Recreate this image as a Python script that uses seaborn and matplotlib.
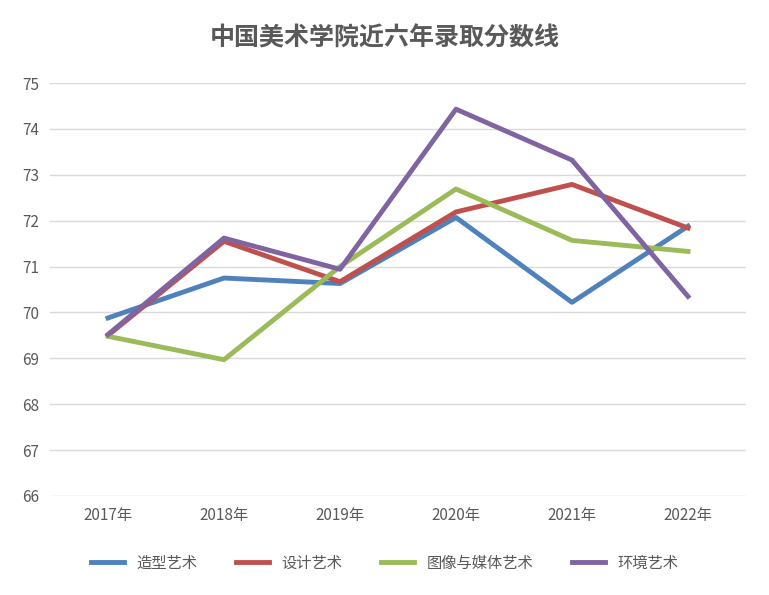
import matplotlib.pyplot as plt
from matplotlib import font_manager
import seaborn as sns
import pandas as pd

years = ['2017年', '2018年', '2019年', '2020年', '2021年', '2022年']
zaoxing = [69.88, 70.75, 70.63, 72.07, 70.22, 71.88]
sheji = [69.50, 71.55, 70.67, 72.19, 72.79, 71.84]
tuxiang = [69.48, 68.97, 71.00, 72.69, 71.57, 71.33]
huanjing = [69.52, 71.62, 70.94, 74.43, 73.32, 70.35]

series = {'造型艺术': zaoxing, '设计艺术': sheji, '图像与媒体艺术': tuxiang, '环境艺术': huanjing}
colors = ['#4f81bd', '#c0504d', '#9bbb59', '#8064a2']

rows = []
for name, vals in series.items():
    for i, (y, v) in enumerate(zip(years, vals)):
        rows.append({'x': i, 'year': y, 'score': v, 'major': name})
df = pd.DataFrame(rows)

# pick whatever CJK font is actually registered
cjk = [f.name for f in font_manager.fontManager.ttflist if 'CJK' in f.name]
cjk = sorted(set(cjk), key=lambda n: (0 if 'SC' in n else 1, n))
plt.rcParams['font.family'] = 'sans-serif'
plt.rcParams['font.sans-serif'] = cjk + ['Noto Sans CJK SC', 'DejaVu Sans']
plt.rcParams['axes.unicode_minus'] = False

fig = plt.figure(figsize=(7.69, 5.95), dpi=100)
ax = fig.add_axes([50 / 769, 1 - 496 / 595, 696 / 769, 413 / 595])

sns.lineplot(data=df, x='x', y='score', hue='major', palette=colors, linewidth=3.5, ax=ax, legend=False)

ax.set_xlim(-0.5, 5.5)
ax.set_ylim(66, 75)
ax.set_xticks(range(len(years)))
ax.set_xticklabels(years)
ax.set_yticks(range(66, 76))
ax.tick_params(length=0, labelsize=11, colors='#595959', pad=8)
ax.grid(axis='y', color='#d9d9d9', linewidth=1)
ax.set_axisbelow(True)
for s in ax.spines.values():
    s.set_visible(False)
ax.set_xlabel('')
ax.set_ylabel('')

handles = [plt.Line2D([], [], color=c, linewidth=3.5) for c in colors]
fig.legend(handles, list(series.keys()), loc='center', bbox_to_anchor=(0.5, 1 - 563 / 595),
           ncol=4, frameon=False, fontsize=11, handlelength=2.2, columnspacing=2.5,
           labelcolor='#595959')
fig.text(0.5, 1 - 38 / 595, '中国美术学院近六年录取分数线', ha='center', va='center',
         fontsize=18, color='#595959', fontweight='bold')

fig.savefig('out.png', dpi=100)
